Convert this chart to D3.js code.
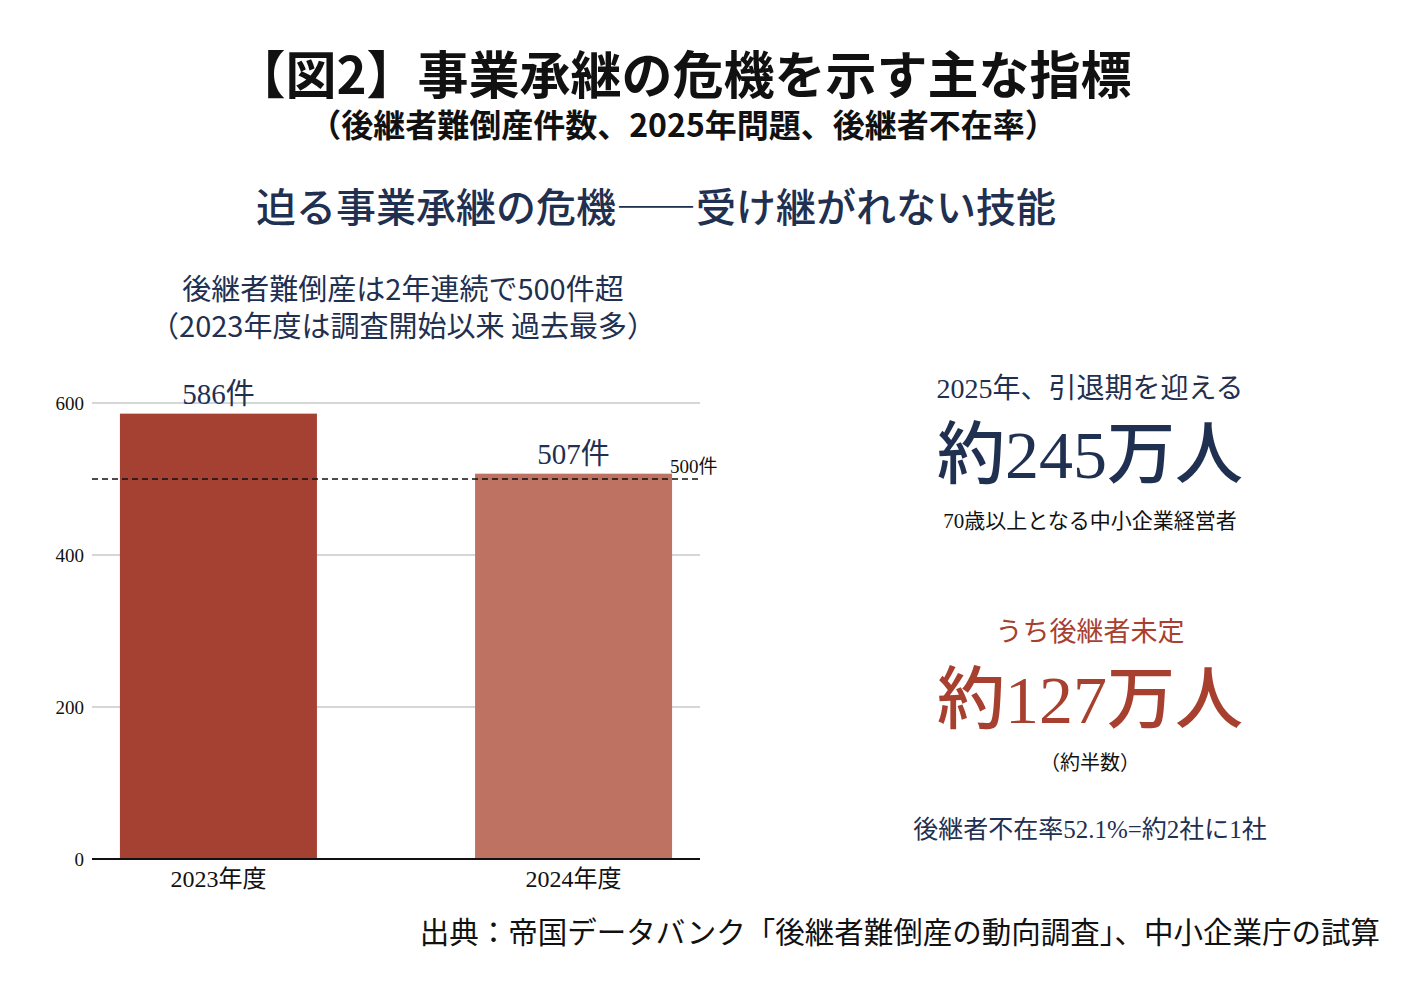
<!DOCTYPE html>
<html><head><meta charset="utf-8">
<script src="https://cdn.jsdelivr.net/npm/d3@7"></script>
<style>
body{margin:0;background:#fff}
text{font-family:"Noto Sans CJK JP","Noto Sans",sans-serif}
.num{font-family:"Liberation Serif","Noto Sans CJK JP",serif}
</style></head><body>
<svg id="c" width="1417" height="987"></svg>
<script>
const categories = ['2023年度', '2024年度'];
const values = [586, 507];
const valueLabels = ['586件', '507件'];
const barColors = ['#a44132', '#bd7262'];
const yTicks = [0, 200, 400, 600];
const threshold = 500;

const navy = '#1f3050';
const red = '#a8402f';
const svg = d3.select('#c');

function txt(x, y, s, size, opts = {}) {
  return svg.append('text')
    .attr('x', x).attr('y', y)
    .attr('text-anchor', opts.anchor || 'middle')
    .attr('font-size', size)
    .attr('font-weight', opts.weight || 'normal')
    .attr('fill', opts.fill || '#111')
    .attr('class', opts.cls || null)
    .text(s);
}

// titles
txt(683, 94, '【図2】事業承継の危機を示す主な指標', 51, {weight: 'bold'});
txt(683, 137, '（後継者難倒産件数、2025年問題、後継者不在率）', 32, {weight: 'bold'});
txt(656, 222, '迫る事業承継の危機――受け継がれない技能', 40, {fill: navy, weight: 500});
txt(403, 300, '後継者難倒産は2年連続で500件超', 29, {fill: navy});
txt(403, 337, '（2023年度は調査開始以来 過去最多）', 29, {fill: navy});

// chart
const y = d3.scaleLinear().domain([0, 600]).range([859, 403]);
const x = d3.scalePoint().domain(categories).range([92, 700]).padding(0.356);
const barW = 197;

svg.append('g').selectAll('line').data(yTicks.slice(1)).enter().append('line')
  .attr('x1', 92).attr('x2', 700)
  .attr('y1', d => y(d)).attr('y2', d => y(d))
  .attr('stroke', '#c8c8c8').attr('stroke-width', 1.5);

svg.append('g').selectAll('text').data(yTicks).enter().append('text')
  .attr('class', 'num')
  .attr('x', 84).attr('y', d => y(d) + 7)
  .attr('text-anchor', 'end').attr('font-size', 19).attr('fill', '#111')
  .text(d => d);

svg.append('g').selectAll('rect').data(values).enter().append('rect')
  .attr('x', (d, i) => x(categories[i]) - barW / 2)
  .attr('y', d => y(d))
  .attr('width', barW)
  .attr('height', d => y(0) - y(d))
  .attr('fill', (d, i) => barColors[i]);

svg.append('line')
  .attr('x1', 92).attr('x2', 700)
  .attr('y1', y(threshold)).attr('y2', y(threshold))
  .attr('stroke', '#111').attr('stroke-width', 1.5).attr('stroke-dasharray', '6,4');
txt(670, y(threshold) - 6, '500件', 19, {anchor: 'start', cls: 'num'});

svg.append('line')
  .attr('x1', 92).attr('x2', 700)
  .attr('y1', y(0)).attr('y2', y(0))
  .attr('stroke', '#111').attr('stroke-width', 2);

svg.append('g').selectAll('text').data(valueLabels).enter().append('text')
  .attr('class', 'num')
  .attr('x', (d, i) => x(categories[i]))
  .attr('y', (d, i) => y(values[i]) - 10)
  .attr('text-anchor', 'middle').attr('font-size', 29).attr('fill', navy)
  .text(d => d);

svg.append('g').selectAll('text').data(categories).enter().append('text')
  .attr('class', 'num')
  .attr('x', d => x(d)).attr('y', 887)
  .attr('text-anchor', 'middle').attr('font-size', 24).attr('fill', '#111')
  .text(d => d);

// right panel
const cx = 1090;
txt(cx, 398, '2025年、引退期を迎える', 28, {fill: navy, cls: 'num'});
txt(cx, 478, '約245万人', 68, {fill: navy, cls: 'num', weight: 500});
txt(cx, 528, '70歳以上となる中小企業経営者', 21, {cls: 'num'});
txt(cx, 641, 'うち後継者未定', 27, {fill: red});
txt(cx, 723, '約127万人', 68, {fill: red, cls: 'num', weight: 500});
txt(cx, 770, '（約半数）', 20, {cls: 'num'});
txt(cx, 838, '後継者不在率52.1%=約2社に1社', 25, {fill: navy, cls: 'num'});

txt(1380, 943, '出典：帝国データバンク「後継者難倒産の動向調査」、中小企業庁の試算', 29.5, {anchor: 'end'});
</script>
</body></html>
